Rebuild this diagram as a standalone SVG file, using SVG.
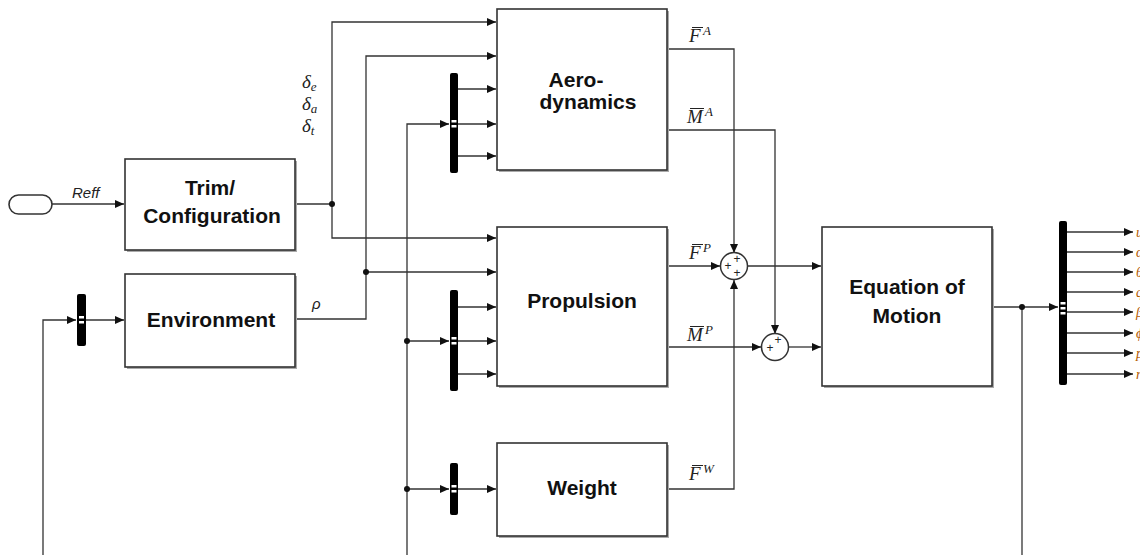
<svg xmlns="http://www.w3.org/2000/svg" width="1140" height="555" viewBox="0 0 1140 555">
<style>
.blk{fill:#fff;stroke:#333;stroke-width:1.6}
.shd{fill:#aaa}
.bt{font-family:"Liberation Sans",Arial,sans-serif;font-weight:bold;font-size:21px;fill:#111;text-anchor:middle}
.ln{fill:none;stroke:#333;stroke-width:1.3}
.mux{fill:#000}
.mk{fill:#fff}
.dot{fill:#111}
.math{font-family:"Liberation Serif","DejaVu Serif",serif;font-style:italic;font-size:19px;fill:#222}
.sub{font-size:13px}
.sup{font-family:"Liberation Serif","DejaVu Serif",serif;font-style:italic;font-size:13px;fill:#222}
.bar{stroke:#222;stroke-width:1}
.lbl{font-family:"Liberation Sans",Arial,sans-serif;font-style:italic;font-size:15px;fill:#222}
.out{font-family:"Liberation Serif",serif;font-style:italic;font-size:14px;fill:#b35900}
.pl{font-family:"Liberation Sans",Arial,sans-serif;font-size:12px;fill:#222;text-anchor:middle}
</style>
<defs>
<marker id="ah" markerWidth="10" markerHeight="10" refX="9" refY="5" orient="auto" markerUnits="userSpaceOnUse">
<path d="M0,1 L9,5 L0,9 Z" fill="#111"/>
</marker>
</defs>

<g id="connectors">
<path class="ln" d="M52,204 H124" marker-end="url(#ah)"/>
<path class="ln" d="M295,204 H332"/>
<path class="ln" d="M332,204 V22 H496" marker-end="url(#ah)"/>
<path class="ln" d="M332,204 V238 H496" marker-end="url(#ah)"/>
<path class="ln" d="M295,319 H366 V56 H496" marker-end="url(#ah)"/>
<path class="ln" d="M366,272 H496" marker-end="url(#ah)"/>
<path class="ln" d="M43,555 V320 H76" marker-end="url(#ah)"/>
<path class="ln" d="M86,320 H124" marker-end="url(#ah)"/>
<path class="ln" d="M407,555 V124 H449" marker-end="url(#ah)"/>
<path class="ln" d="M407,341 H449" marker-end="url(#ah)"/>
<path class="ln" d="M407,489 H449" marker-end="url(#ah)"/>
<path class="ln" d="M457,89 H496" marker-end="url(#ah)"/>
<path class="ln" d="M457,124 H496" marker-end="url(#ah)"/>
<path class="ln" d="M457,156 H496" marker-end="url(#ah)"/>
<path class="ln" d="M457,307 H496" marker-end="url(#ah)"/>
<path class="ln" d="M457,341 H496" marker-end="url(#ah)"/>
<path class="ln" d="M457,374 H496" marker-end="url(#ah)"/>
<path class="ln" d="M457,489 H496" marker-end="url(#ah)"/>
<path class="ln" d="M667,49 H734 V253" marker-end="url(#ah)"/>
<path class="ln" d="M667,130 H775 V334" marker-end="url(#ah)"/>
<path class="ln" d="M667,266 H720" marker-end="url(#ah)"/>
<path class="ln" d="M667,489 H734 V280" marker-end="url(#ah)"/>
<path class="ln" d="M748,266 H821" marker-end="url(#ah)"/>
<path class="ln" d="M667,347 H761" marker-end="url(#ah)"/>
<path class="ln" d="M789,347 H821" marker-end="url(#ah)"/>
<path class="ln" d="M992,307 H1058" marker-end="url(#ah)"/>
<path class="ln" d="M1022,307 V555"/>
<path class="ln" d="M1067,232 H1133" marker-end="url(#ah)"/>
<path class="ln" d="M1067,252 H1133" marker-end="url(#ah)"/>
<path class="ln" d="M1067,272 H1133" marker-end="url(#ah)"/>
<path class="ln" d="M1067,292 H1133" marker-end="url(#ah)"/>
<path class="ln" d="M1067,312 H1133" marker-end="url(#ah)"/>
<path class="ln" d="M1067,333 H1133" marker-end="url(#ah)"/>
<path class="ln" d="M1067,353 H1133" marker-end="url(#ah)"/>
<path class="ln" d="M1067,374 H1133" marker-end="url(#ah)"/>
<circle class="dot" cx="332" cy="204" r="3"/>
<circle class="dot" cx="366" cy="272" r="3"/>
<circle class="dot" cx="407" cy="341" r="3"/>
<circle class="dot" cx="407" cy="489" r="3"/>
<circle class="dot" cx="1022" cy="307" r="3"/>
</g>

<g id="labels">
<text class="lbl" x="72" y="198">Reff</text>
<text class="math" x="302" y="88">δ<tspan class="sub" dy="3">e</tspan></text>
<text class="math" x="302" y="110">δ<tspan class="sub" dy="3">a</tspan></text>
<text class="math" x="302" y="132">δ<tspan class="sub" dy="3">t</tspan></text>
<text class="lbl" x="312" y="309">ρ</text>

<text class="math" x="689" y="42">F</text><line class="bar" x1="692" y1="27.5" x2="703" y2="27.5"/><text class="sup" x="703" y="35">A</text>
<text class="math" x="687" y="123">M</text><line class="bar" x1="690" y1="108.5" x2="704" y2="108.5"/><text class="sup" x="705" y="116">A</text>
<text class="math" x="689" y="259">F</text><line class="bar" x1="692" y1="244.5" x2="703" y2="244.5"/><text class="sup" x="703" y="252">P</text>
<text class="math" x="687" y="341">M</text><line class="bar" x1="690" y1="326.5" x2="704" y2="326.5"/><text class="sup" x="705" y="334">P</text>
<text class="math" x="689" y="480">F</text><line class="bar" x1="692" y1="465.5" x2="703" y2="465.5"/><text class="sup" x="703" y="473">W</text>

<text class="out" x="1136" y="237">u</text>
<text class="out" x="1136" y="257">α</text>
<text class="out" x="1136" y="277">θ</text>
<text class="out" x="1136" y="297">q</text>
<text class="out" x="1136" y="317">β</text>
<text class="out" x="1136" y="338">ϕ</text>
<text class="out" x="1136" y="358">p</text>
<text class="out" x="1136" y="379">r</text>
</g>

<g id="ref-in">
<rect x="9" y="195" width="43" height="19" rx="9.5" fill="#fff" stroke="#333" stroke-width="1.6"/>
</g>

<g id="trim">
<rect class="shd" x="127" y="161" width="170" height="91"/>
<rect class="blk" x="125" y="159" width="170" height="91"/>
<text class="bt" x="210" y="195">Trim/</text>
<text class="bt" x="212" y="223">Configuration</text>
</g>

<g id="environment">
<rect class="shd" x="127" y="276" width="170" height="93"/>
<rect class="blk" x="125" y="274" width="170" height="93"/>
<text class="bt" x="211" y="327">Environment</text>
</g>

<g id="aero">
<rect class="shd" x="499" y="11" width="170" height="161"/>
<rect class="blk" x="497" y="9" width="170" height="161"/>
<text class="bt" x="576" y="87">Aero-</text>
<text class="bt" x="588" y="109">dynamics</text>
</g>

<g id="propulsion">
<rect class="shd" x="499" y="229" width="170" height="159"/>
<rect class="blk" x="497" y="227" width="170" height="159"/>
<text class="bt" x="582" y="308">Propulsion</text>
</g>

<g id="weight">
<rect class="shd" x="499" y="445" width="170" height="93"/>
<rect class="blk" x="497" y="443" width="170" height="93"/>
<text class="bt" x="582" y="495">Weight</text>
</g>

<g id="eom">
<rect class="shd" x="824" y="229" width="170" height="159"/>
<rect class="blk" x="822" y="227" width="170" height="159"/>
<text class="bt" x="907" y="294">Equation of</text>
<text class="bt" x="907" y="323">Motion</text>
</g>

<g id="mux-env">
<rect class="mux" x="77" y="294" width="9" height="52" rx="2"/>
<rect class="mk" x="79" y="316" width="5" height="2.5"/>
<rect class="mk" x="79" y="321" width="5" height="2.5"/>
</g>
<g id="mux-aero">
<rect class="mux" x="450" y="73" width="8" height="100" rx="2"/>
<rect class="mk" x="451.5" y="120" width="5" height="2.5"/>
<rect class="mk" x="451.5" y="125" width="5" height="2.5"/>
</g>
<g id="mux-prop">
<rect class="mux" x="450" y="290" width="8" height="101" rx="2"/>
<rect class="mk" x="451.5" y="337" width="5" height="2.5"/>
<rect class="mk" x="451.5" y="342" width="5" height="2.5"/>
</g>
<g id="mux-weight">
<rect class="mux" x="450" y="463" width="8" height="52" rx="2"/>
<rect class="mk" x="451.5" y="485" width="5" height="2.5"/>
<rect class="mk" x="451.5" y="490" width="5" height="2.5"/>
</g>
<g id="mux-out">
<rect class="mux" x="1059" y="221" width="8" height="164" rx="2"/>
<rect class="mk" x="1060.5" y="302" width="5" height="2.5"/>
<rect class="mk" x="1060.5" y="307" width="5" height="2.5"/>
<rect class="mk" x="1060.5" y="312" width="5" height="2.5"/>
</g>

<g id="sum-force">
<circle cx="734" cy="266" r="13.5" fill="#fff" stroke="#333" stroke-width="1.5"/>
<text class="pl" x="737" y="263">+</text>
<text class="pl" x="728" y="270">+</text>
<text class="pl" x="737" y="277">+</text>
</g>
<g id="sum-moment">
<circle cx="775" cy="347" r="13.5" fill="#fff" stroke="#333" stroke-width="1.5"/>
<text class="pl" x="778" y="344">+</text>
<text class="pl" x="770" y="352">+</text>
</g>
</svg>
